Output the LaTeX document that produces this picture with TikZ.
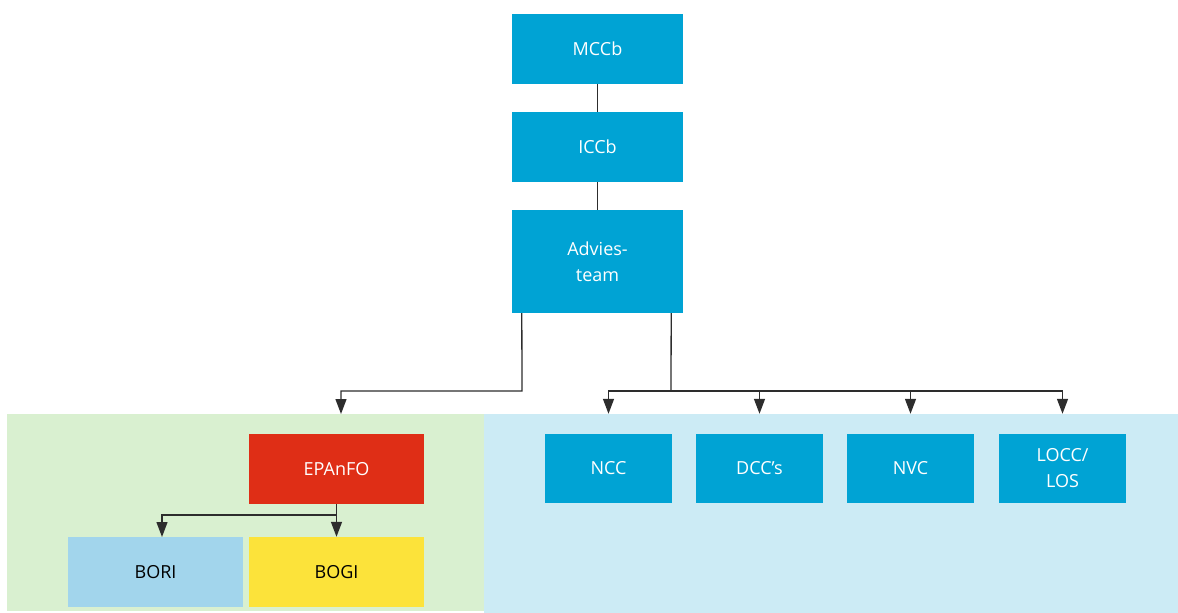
\documentclass[tikz,border=0pt]{standalone}
\usepackage{fontspec}
\setmainfont{Open Sans}
\usetikzlibrary{arrows.meta,calc}
\definecolor{boxblue}{RGB}{0,163,212}
\definecolor{zoneblue}{RGB}{204,235,245}
\definecolor{zonegreen}{RGB}{217,240,208}
\definecolor{boxred}{RGB}{223,46,22}
\definecolor{boxlight}{RGB}{162,213,236}
\definecolor{boxyellow}{RGB}{252,227,58}
\definecolor{linegray}{RGB}{45,45,45}
\tikzset{
  orgbox/.style={rectangle, inner sep=0pt, minimum width=171pt, minimum height=70pt,
    fill=boxblue, text=white, align=center, font=\fontsize{18}{26}\selectfont},
  subbox/.style={orgbox, minimum width=127pt, minimum height=69pt},
  zone/.style={rectangle, inner sep=0pt},
  conn/.style={draw=linegray, line width=1.3pt},
  arr/.style={conn, -{Triangle[length=15pt,width=11pt]}},
}
\begin{document}
\begin{tikzpicture}[x=1pt,y=-1pt]
\useasboundingbox (0,0) rectangle (1178,613);
% zones
\node[zone, fill=zonegreen, minimum width=477pt, minimum height=197pt] (greenzone) at (245.5,512.5) {};
\node[zone, fill=zoneblue, minimum width=694pt, minimum height=199pt] (bluezone) at (831,513.5) {};
% top column
\node[orgbox] (mccb) at (597.5,48.5) {MCCb};
\node[orgbox] (iccb) at (597.5,147) {ICCb};
\node[orgbox, minimum height=103pt] (advies) at (597.5,261.5) {Advies-\\team};
% left group
\node[orgbox, fill=boxred, minimum width=175pt, minimum height=70pt] (epanfo) at (336.5,469) {EPAnFO};
\node[orgbox, fill=boxlight, text=black, minimum width=175pt, minimum height=70pt] (bori) at (155.5,572) {BORI};
\node[orgbox, fill=boxyellow, text=black, minimum width=175pt, minimum height=70pt] (bogi) at (336.5,572) {BOGI};
% right group
\node[subbox] (ncc) at (608.5,468.5) {NCC};
\node[subbox] (dcc) at (759.5,468.5) {DCC’s};
\node[subbox] (nvc) at (910.5,468.5) {NVC};
\node[subbox] (locc) at (1062.5,468.5) {LOCC/\\LOS};
% connectors
\draw[conn] (mccb) -- (iccb);
\draw[conn] (iccb) -- (advies);
\coordinate (jL) at (522,391);
\coordinate (tE) at (341,414);
\draw[arr] ([xshift=10pt]advies.south west) -- (jL) -| (tE);
\coordinate (busR) at (671,391);
\draw[conn] ([xshift=-12pt]advies.south east) -- (busR);
\draw[arr] (busR) -| (ncc.north |- bluezone.north);
\draw[arr] (busR) -| (dcc.north |- bluezone.north);
\draw[arr] (busR) -| (nvc.north |- bluezone.north);
\draw[arr] (busR) -| (locc.north |- bluezone.north);
\coordinate (jB) at (336.5,515);
\coordinate (tB) at (162,537);
\draw[arr] (epanfo.south) -- (bogi.north);
\draw[arr] (epanfo.south) -- (jB) -| (tB);
\end{tikzpicture}
\end{document}
